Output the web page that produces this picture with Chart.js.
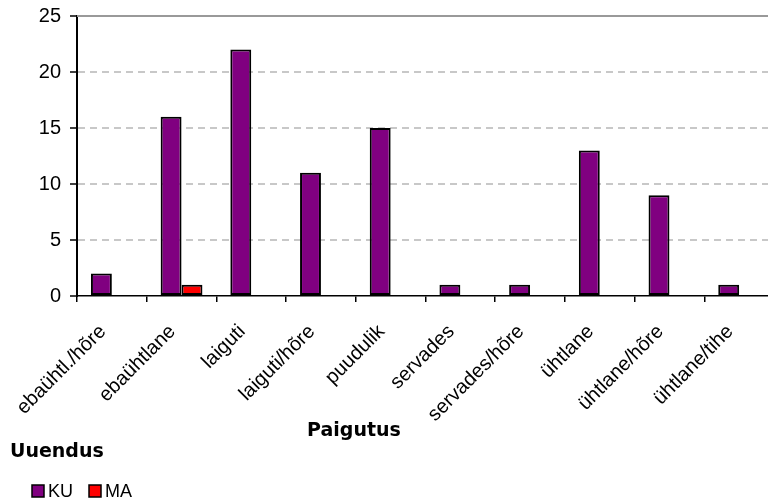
<!DOCTYPE html>
<html><head><meta charset="utf-8">
<script src="https://cdn.jsdelivr.net/npm/chart.js@4/dist/chart.umd.min.js"></script>
<style>html,body{margin:0;padding:0;background:#fff;overflow:hidden;}#wrap{width:768px;height:504px;overflow:hidden;position:relative;background:#fff;}canvas{display:block;}</style>
</head><body><div id="wrap"><canvas id="c" width="776" height="504"></canvas></div>
<script>
const categories = ['ebaühtl./hõre','ebaühtlane','laiguti','laiguti/hõre','puudulik','servades','servades/hõre','ühtlane','ühtlane/hõre','ühtlane/tihe'];
const seriesNames = ['KU','MA'];
const valuesKU = [2,16,22,11,15,1,1,13,9,1];
const valuesMA = [0,1,0,0,0,0,0,0,0,0];
const yMin = 0, yMax = 25, yStep = 5;
const xAxisTitle = 'Paigutus';
const legendTitle = 'Uuendus';
const seriesColors = ['#800080','#FF0000'];

const decor = {
  id: 'decor',
  beforeDatasetsDraw(chart) {
    const {ctx, chartArea, scales: {y}} = chart;
    const yt = y.getPixelForValue(yMax);
    ctx.save();
    ctx.strokeStyle = '#999999';
    ctx.lineWidth = 2;
    ctx.beginPath();
    ctx.moveTo(chartArea.left, yt);
    ctx.lineTo(chart.width, yt);
    ctx.stroke();
    ctx.restore();
  },
  afterDraw(chart) {
    const {ctx} = chart;
    ctx.save();
    ctx.fillStyle = '#000';
    ctx.font = 'bold 19px "DejaVu Sans"';
    ctx.textBaseline = 'alphabetic';
    ctx.textAlign = 'center';
    ctx.fillText(xAxisTitle, 354, 436);
    ctx.textAlign = 'left';
    ctx.fillText(legendTitle, 10, 457);
    ctx.font = '18px "Liberation Sans"';
    let x = 32;
    chart.data.datasets.forEach(ds => {
      ctx.fillStyle = ds.backgroundColor;
      ctx.fillRect(x, 485, 12, 12);
      ctx.strokeStyle = '#000';
      ctx.lineWidth = 1.5;
      ctx.strokeRect(x, 485, 12, 12);
      ctx.fillStyle = '#000';
      ctx.fillText(ds.label, x + 16, 497);
      x += 16 + ctx.measureText(ds.label).width + 16;
    });
    ctx.restore();
  }
};

new Chart(document.getElementById('c'), {
  type: 'bar',
  data: {
    labels: categories,
    datasets: [
      {label: seriesNames[0], data: valuesKU, backgroundColor: seriesColors[0], borderColor: '#000', borderWidth: 2, borderSkipped: false},
      {label: seriesNames[1], data: valuesMA, backgroundColor: seriesColors[1], borderColor: '#000', borderWidth: 2, borderSkipped: false}
    ]
  },
  options: {
    responsive: false,
    animation: false,
    categoryPercentage: 0.6,
    barPercentage: 1.0,
    layout: {padding: {top: 16, right: 2, left: 0, bottom: 0}},
    plugins: {legend: {display: false}, tooltip: {enabled: false}},
    scales: {
      x: {
        afterFit(scale) { scale.height = 504 - 296; scale.paddingLeft = 0; scale.paddingRight = 0; },
        grid: {display: true, drawOnChartArea: false, drawTicks: true, tickLength: 6, tickColor: '#000', lineWidth: 1.5, offset: true},
        border: {display: true, color: '#000', width: 1.5},
        ticks: {autoSkip: false, minRotation: 45, maxRotation: 45, padding: 18, labelOffset: -9, color: '#000', font: {family: '"Liberation Sans"', size: 20}}
      },
      y: {
        min: yMin, max: yMax,
        afterFit(scale) { scale.width = 77; scale.paddingTop = 0; scale.paddingBottom = 0; },
        grid: {
          color: (c) => (c.tick && c.tick.value > yMin && c.tick.value < yMax) ? '#c8c8c8' : 'rgba(0,0,0,0)',
          lineWidth: 2, tickLength: 7, tickColor: '#000', tickWidth: 1.5
        },
        border: {display: true, color: '#000', width: 2, dash: [7, 5]},
        ticks: {stepSize: yStep, padding: 9, color: '#000', font: {family: '"Liberation Sans"', size: 20}}
      }
    }
  },
  plugins: [decor]
});
</script></body></html>
